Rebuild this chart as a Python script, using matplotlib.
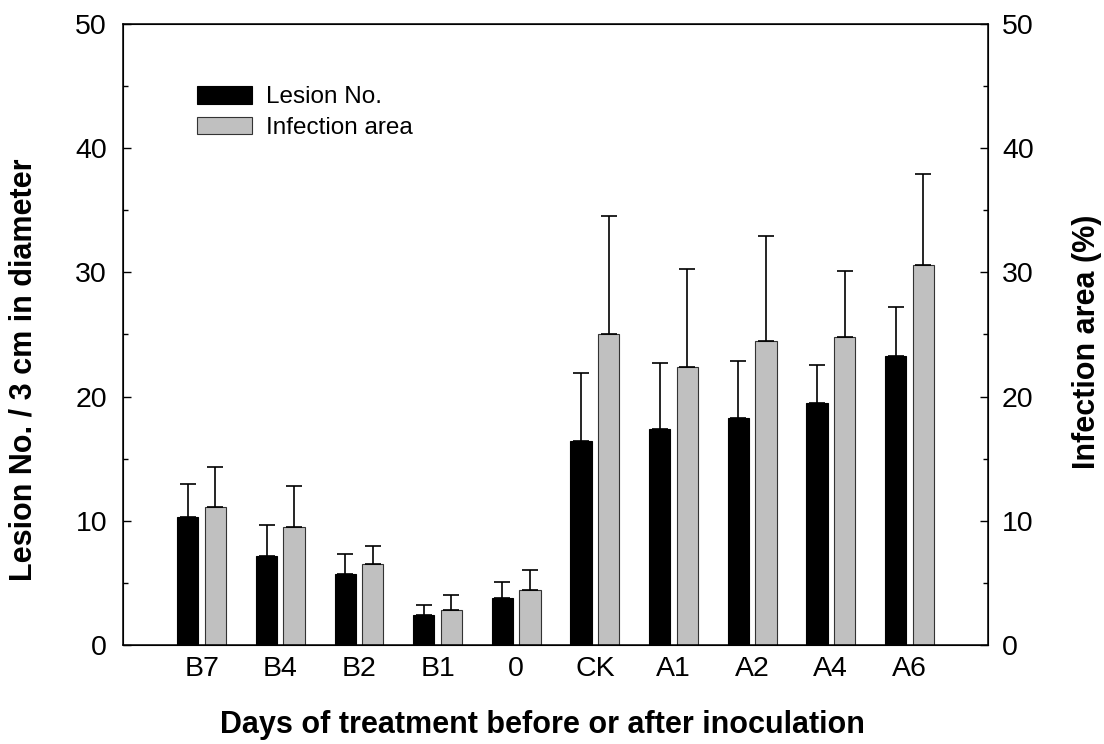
import matplotlib.pyplot as plt
import numpy as np

plt.rcParams['font.family'] = ['Liberation Sans', 'DejaVu Sans']

days = ["B7", "B4", "B2", "B1", "0", "CK", "A1", "A2", "A4", "A6"]
lesion_no = [10.3, 7.2, 5.7, 2.4, 3.8, 16.4, 17.4, 18.3, 19.5, 23.3]
lesion_err = [2.7, 2.5, 1.6, 0.8, 1.3, 5.5, 5.3, 4.6, 3.0, 3.9]
infection_area = [11.1, 9.5, 6.5, 2.8, 4.4, 25.0, 22.4, 24.5, 24.8, 30.6]
infection_err = [3.2, 3.3, 1.5, 1.2, 1.6, 9.5, 7.9, 8.4, 5.3, 7.3]

x = np.arange(len(days))
w = 0.27
off = 0.175
ekw = dict(elinewidth=1.2, capthick=1.2, ecolor='black')

fig = plt.figure(figsize=(11.04, 7.44), dpi=100)
ax = fig.add_axes([0.1114, 0.133, 0.7836, 0.835])

ax.bar(x - off, lesion_no, w, color='black', edgecolor='black', linewidth=0.8,
       yerr=[np.zeros(len(x)), lesion_err], capsize=6, error_kw=ekw, label='Lesion No.')
ax.bar(x + off, infection_area, w, color='#c0c0c0', edgecolor='#333333', linewidth=0.8,
       yerr=[np.zeros(len(x)), infection_err], capsize=6, error_kw=ekw, label='Infection area')

ax.set_xlim(-1, 10)
ax.set_ylim(0, 50)
ax.set_xticks(x)
ax.set_xticklabels(days)
ax.set_yticks(np.arange(0, 51, 10))
ax.set_yticks(np.arange(5, 50, 10), minor=True)
ax.tick_params(axis='x', length=0, labelsize=20.5, pad=8)
ax.tick_params(axis='y', which='major', direction='in', length=6, width=1, labelsize=20.5, pad=11.5)
ax.tick_params(axis='y', which='minor', direction='in', length=3.5, width=1)
for s in ax.spines.values():
    s.set_linewidth(1.1)

ax2 = ax.twinx()
ax2.set_ylim(0, 50)
ax2.set_yticks(np.arange(0, 51, 10))
ax2.set_yticks(np.arange(5, 50, 10), minor=True)
ax2.tick_params(axis='y', which='major', direction='in', length=6, width=1, labelsize=20.5, pad=10)
ax2.tick_params(axis='y', which='minor', direction='in', length=3.5, width=1)

fig.text(0.491, 0.0255, 'Days of treatment before or after inoculation', fontsize=22,
         fontweight='bold', ha='center', va='center')
fig.text(0.0217, 0.503, 'Lesion No. / 3 cm in diameter', fontsize=22, fontweight='bold',
         rotation=90, ha='center', va='center')
fig.text(0.9846, 0.540, 'Infection area (%)', fontsize=22, fontweight='bold',
         rotation=90, ha='center', va='center')

ax.legend(loc='upper left', bbox_to_anchor=(0.0855, 0.90), frameon=False, fontsize=17.5,
          borderpad=0, borderaxespad=0, handlelength=2.26, handleheight=0.74,
          handletextpad=0.58, labelspacing=0.35)

fig.savefig('out.png', dpi=100)
